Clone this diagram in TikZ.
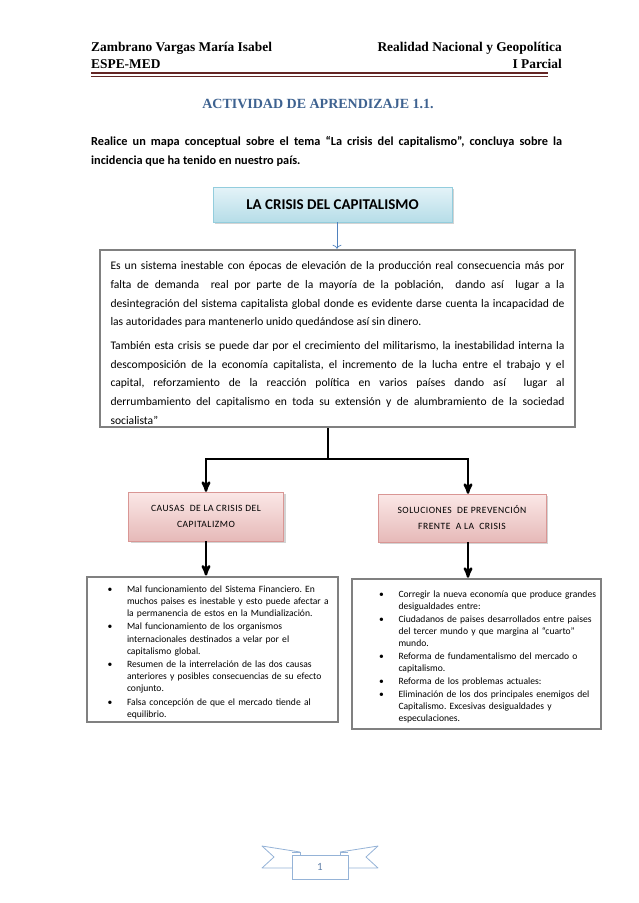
\documentclass[tikz,border=0pt]{standalone}
\usepackage{fontspec}
\setmainfont{Carlito}
\newfontfamily\headfont{Liberation Serif}
\usetikzlibrary{arrows,arrows.meta,shadows,positioning}
\frenchspacing

\definecolor{headerrule}{HTML}{632523}
\definecolor{titleblue}{HTML}{3E6290}
\definecolor{framegray}{HTML}{808080}
\definecolor{conceptline}{HTML}{93CDDD}
\definecolor{concepttop}{HTML}{E4F3F8}
\definecolor{conceptbottom}{HTML}{B6DDE8}
\definecolor{branchline}{HTML}{D99694}
\definecolor{branchtop}{HTML}{FBE8E7}
\definecolor{branchbottom}{HTML}{E6B9B8}
\definecolor{arrowblue}{HTML}{4F81BD}
\definecolor{ribbonline}{HTML}{95B3D7}
\definecolor{pagenum}{HTML}{5F7FA8}

% bullet list for the two lower boxes
\newenvironment{crisislist}[2]{%
  \raggedright
  \begin{list}{\textbullet}{%
    \setlength{\leftmargin}{#1}%
    \setlength{\labelsep}{14.5pt}%
    \setlength{\labelwidth}{\dimexpr#1-14.5pt\relax}%
    \setlength{\itemsep}{#2}%
    \setlength{\parsep}{0pt}%
    \setlength{\topsep}{0pt}%
    \setlength{\partopsep}{0pt}}}%
  {\end{list}}

\tikzset{
  mainconcept/.style={
    % The shape:
    rectangle,
    minimum width=239pt,minimum height=35pt,
    % The border:
    draw=conceptline,
    % The filling:
    top color=concepttop,
    bottom color=conceptbottom,
    drop shadow={shadow xshift=2pt,shadow yshift=-2pt,opacity=.35},
    font=\bfseries\fontsize{15}{17}\selectfont},
  branch/.style={
    % The shape:
    rectangle,
    align=center,
    % The border:
    draw=branchline,
    % The filling:
    top color=branchtop,bottom color=branchbottom,
    drop shadow={shadow xshift=2pt,shadow yshift=-2pt,opacity=.35},
    font=\fontsize{9.6}{16}\selectfont\addfontfeature{LetterSpace=5}},
  textframe/.style={
    rectangle,
    line width=2.5pt,draw=framegray,fill=white},
  listframe/.style={
    rectangle,
    line width=2.5pt,draw=framegray,fill=white,
    inner xsep=0pt,
    font=\fontsize{9.6}{12.2}\selectfont}
}

\begin{document}
\begin{tikzpicture}[x=1pt,y=-1pt,
                    trunk/.style={line width=2.4pt,black},
                    tip/.style={->,>=stealth'},
                    headline/.style={inner sep=0pt,font=\headfont\bfseries\fontsize{13.4}{15}\selectfont}]
  \useasboundingbox (0,0) rectangle (638,903);

  % page header
  \node (author)  [headline,anchor=base west] at (91,51) {Zambrano Vargas María Isabel};
  \node (subject) [headline,anchor=base east] at (562,51) {Realidad Nacional y Geopolítica};
  \node (school)  [headline,anchor=base west] at (91,68) {ESPE-MED};
  \node (term)    [headline,anchor=base east] at (562,68) {I Parcial};
  \draw[headerrule,line width=2.6pt] (91,73) -- (548,73);
  \draw[headerrule,line width=.6pt] (91,76.5) -- (548,76.5);

  \node (title) [anchor=base,inner sep=0pt,text=titleblue,
                 font=\headfont\bfseries\fontsize{14}{16}\selectfont] at (318,108)
    {ACTIVIDAD DE APRENDIZAJE 1.1.};
  \node (task) [anchor=north west,inner sep=0pt,text width=471pt,align=justify,
                font=\bfseries\fontsize{12.3}{19}\selectfont] at (91,136)
    {Realice un mapa conceptual sobre el tema “La crisis del capitalismo”, concluya sobre la\linebreak
     incidencia que ha tenido en nuestro país.};

  % concept map
  \node (crisis) [mainconcept] at (332.5,204.5) {LA CRISIS DEL CAPITALISMO};
  \node (definition) [textframe,minimum width=475pt,minimum height=177pt] at (337.5,338.5) {};
  \node (definitiontext) [inner sep=0pt,text width=454pt,align=justify,
                          font=\fontsize{11.6}{18.7}\selectfont] at ([yshift=-4.5pt]definition.center)
    {Es un sistema inestable con épocas de elevación de la producción real consecuencia más por\linebreak
     falta de demanda \ real por parte de la mayoría de la población, \ dando así \ lugar a la\linebreak
     desintegración del sistema capitalista global donde es evidente darse cuenta la incapacidad de\linebreak
     las autoridades para mantenerlo unido quedándose así sin dinero.\par\vspace{5pt}
     También esta crisis se puede dar por el crecimiento del militarismo, la inestabilidad interna la\linebreak
     descomposición de la economía capitalista, el incremento de la lucha entre el trabajo y el\linebreak
     capital, reforzamiento de la reacción política en varios países dando así \ lugar al\linebreak
     derrumbamiento del capitalismo en toda su extensión y de alumbramiento de la sociedad\linebreak
     socialista”};
  \draw[arrowblue,line width=.7pt,-{To[length=4pt,width=9pt]}]
    ([xshift=4.5pt]crisis.south) -- ([xshift=4.5pt]crisis.south |- definition.north);

  \node (causes)    [branch,minimum width=155pt,minimum height=49pt] at (206,516.5)
    {CAUSAS \ DE LA CRISIS DEL\\CAPITALIZMO};
  \node (solutions) [branch,minimum width=168pt,minimum height=48pt] at (462,518)
    {SOLUCIONES \ DE PREVENCIÓN\\FRENTE \ A LA \ CRISIS};

  \coordinate (split) at (328,459);
  \draw[trunk] (definition.south -| split) -- (split);
  \draw[trunk,tip] (split) -| (causes.north);
  \draw[trunk,tip] (split) -| ([xshift=6pt]solutions.north);

  \node (causelist) [listframe,minimum width=251pt,minimum height=145pt,text width=247pt] at (212.5,649.5)
    {\begin{crisislist}{38pt}{1pt}
       \item Mal funcionamiento del Sistema Financiero. En\newline
             muchos paises es inestable y esto puede afectar a\newline
             la permanencia de estos en la Mundialización.
       \item Mal funcionamiento de los organismos\newline
             internacionales destinados a velar por el\newline
             capitalismo global.
       \item Resumen de la interrelación de las dos causas\newline
             anteriores y posibles consecuencias de su efecto\newline
             conjunto.
       \item Falsa concepción de que el mercado tiende al\newline
             equilibrio.
     \end{crisislist}};
  \node (solutionlist) [listframe,minimum width=249pt,minimum height=150pt,text width=245pt] at (476.5,654)
    {\begin{crisislist}{44.5pt}{0.6pt}
       \item Corregir la nueva economía que produce grandes\newline
             desigualdades entre:
       \item Ciudadanos de paises desarrollados entre paises\newline
             del tercer mundo y que margina al “cuarto”\newline
             mundo.
       \item Reforma de fundamentalismo del mercado o\newline
             capitalismo.
       \item Reforma de los problemas actuales:
       \item Eliminación de los dos principales enemigos del\newline
             Capitalismo. Excesivas desigualdades y\newline
             especulaciones.
     \end{crisislist}\par\vspace{-3pt}};

  \draw[trunk,tip] (causes.south) -- (causes.south |- causelist.north);
  \draw[trunk,tip] ([xshift=6pt]solutions.south) -- ([xshift=6pt]solutions.south |- solutionlist.north);

  % page number ribbon
  \draw[ribbonline,fill=white,line width=.8pt,line join=round]
    (300,852) -- (262,846) -- (274,857) -- (262,868) -- (292,868);
  \draw[ribbonline,fill=white,line width=.8pt,line join=round]
    (340,852) -- (378,846) -- (366,857) -- (378,868) -- (348,868);
  \draw[ribbonline,line width=.8pt] (292,852) -- (300,852) -- (300,855)
                                    (348,852) -- (340,852) -- (340,855);
  \node (pageno) [draw=ribbonline,fill=white,line width=.8pt,minimum width=56pt,minimum height=24pt,
                  text=pagenum,font=\fontsize{11}{13}\selectfont] at (320,867) {1};
\end{tikzpicture}
\end{document}
